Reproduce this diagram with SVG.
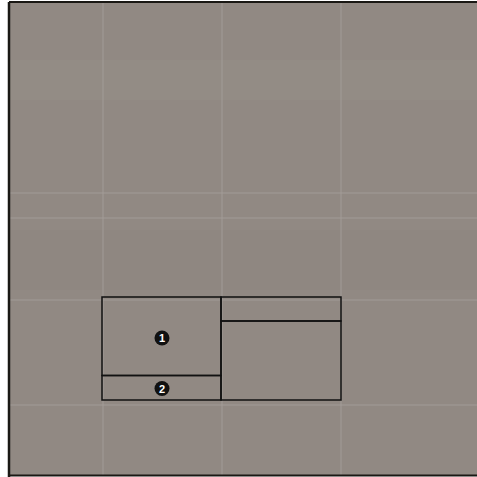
<svg xmlns="http://www.w3.org/2000/svg" width="477" height="477" viewBox="0 0 477 477">
  <style>
    .box { fill: none; stroke: #111; stroke-width: 1.5; }
    .tex { stroke: #a59e98; stroke-opacity: 0.45; }
    .badge { fill: #111; }
    .num { fill: #fff; font-family: "Liberation Sans", Arial, sans-serif; font-weight: bold; font-size: 11px; text-anchor: middle; }
  </style>
  <rect x="0" y="0" width="477" height="477" fill="#ffffff"/>
  <rect x="9" y="2" width="468" height="474" fill="#918983"/>
  <g id="texture">
    <rect x="10" y="60" width="467" height="40" fill="#958d87" opacity="0.6"/>
    <rect x="10" y="230" width="467" height="60" fill="#8d8580" opacity="0.6"/>
    <line class="tex" x1="103" y1="3" x2="103" y2="475" stroke-width="2"/>
    <line class="tex" x1="222" y1="3" x2="222" y2="475" stroke-width="2"/>
    <line class="tex" x1="341" y1="3" x2="341" y2="475" stroke-width="2"/>
    <line class="tex" x1="10" y1="193" x2="477" y2="193" stroke-width="2"/>
    <line class="tex" x1="10" y1="218" x2="477" y2="218" stroke-width="2"/>
    <line class="tex" x1="10" y1="300" x2="477" y2="300" stroke-width="2"/>
    <line class="tex" x1="10" y1="405" x2="477" y2="405" stroke-width="2"/>
  </g>
  <g id="frame">
    <line x1="9" y1="2" x2="477" y2="2" stroke="#1a1814" stroke-width="2"/>
    <line x1="9" y1="2" x2="9" y2="477" stroke="#1a1814" stroke-width="2.5"/>
    <line x1="9" y1="475.5" x2="477" y2="475.5" stroke="#1a1814" stroke-width="2"/>
  </g>
  <g id="node-1">
    <rect class="box" x="102" y="297" width="119" height="78.5"/>
    <circle class="badge" cx="162" cy="338" r="7.5"/>
    <text class="num" x="162" y="342">1</text>
  </g>
  <g id="node-2">
    <rect class="box" x="102" y="375.5" width="119" height="24.5"/>
    <circle class="badge" cx="162" cy="388.5" r="7.5"/>
    <text class="num" x="162" y="392.5">2</text>
  </g>
  <g id="node-3">
    <rect class="box" x="221" y="297" width="120" height="24"/>
  </g>
  <g id="node-4">
    <rect class="box" x="221" y="321" width="120" height="79"/>
  </g>
  <g id="connectors"></g>
</svg>
